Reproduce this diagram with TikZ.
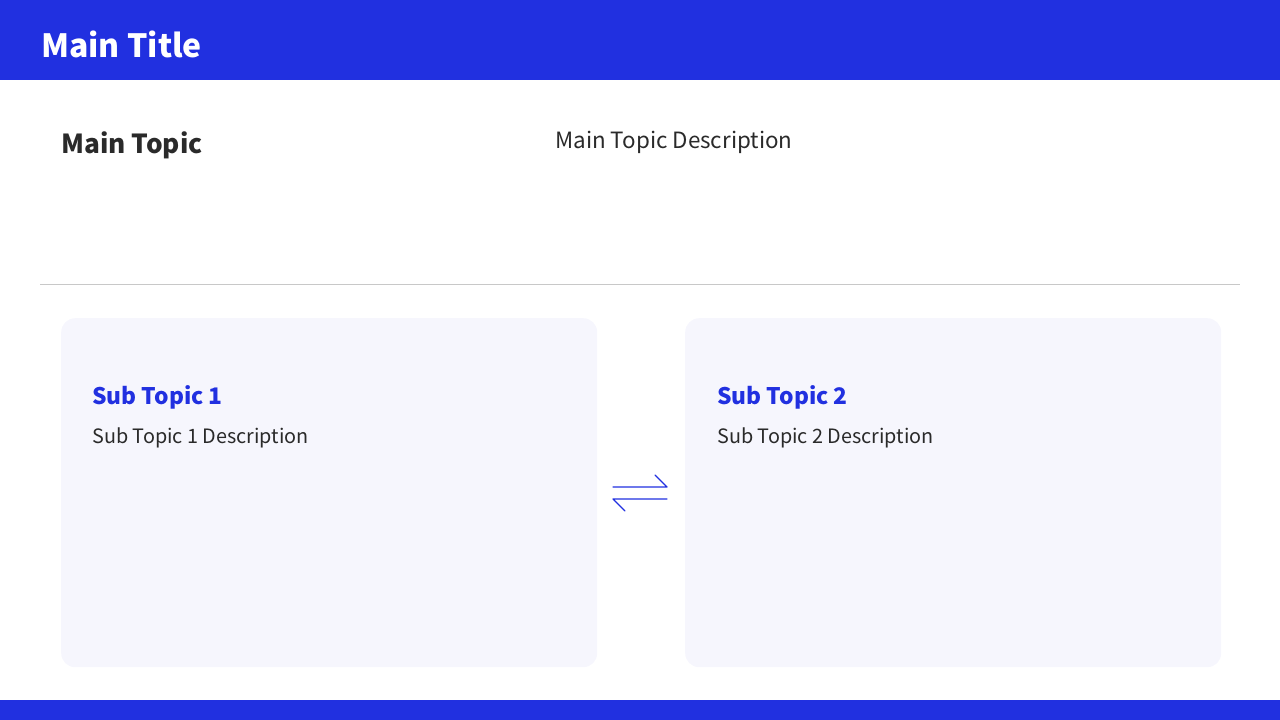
\documentclass[tikz,border=0pt]{standalone}
\usepackage{fontspec}
\setmainfont{Noto Sans CJK SC}
\usepackage{xcolor}
\usetikzlibrary{positioning, calc}

\definecolor{brandblue}{HTML}{2130E0}
\definecolor{cardfill}{HTML}{F6F6FD}
\definecolor{darktext}{HTML}{2A2A2A}
\definecolor{rulegray}{HTML}{C8C8C8}

\begin{document}
\begin{tikzpicture}[
    x=1pt, y=-1pt,
    bar/.style={fill=brandblue, draw=none},
    card/.style={rectangle, fill=cardfill, draw=none, rounded corners=14pt, anchor=north west, minimum width=536pt, minimum height=349pt},
    title/.style={anchor=base west, inner sep=0pt, font=\fontsize{32}{38}\selectfont\bfseries, text=white},
    topic/.style={anchor=base west, inner sep=0pt, font=\fontsize{26.2}{31}\selectfont\bfseries, text=darktext},
    topicdesc/.style={anchor=base west, inner sep=0pt, font=\fontsize{22.4}{27}\selectfont, text=darktext},
    subtopic/.style={anchor=base west, inner sep=0pt, font=\fontsize{22.8}{27}\selectfont\bfseries, text=brandblue},
    subdesc/.style={anchor=base west, inner sep=0pt, font=\fontsize{19.8}{24}\selectfont, text=darktext},
    harpoon/.style={draw=brandblue, line width=1.3pt, line cap=round, line join=round}
]
\useasboundingbox (0,0) rectangle (1280,720);

% Header and footer bars
\fill[bar] (0,0) rectangle (1280,80);
\fill[bar] (0,700) rectangle (1280,720);
\node[title] (maintitle) at (41,57) {Main Title};

% Main topic
\node[topic] (maintopic) at (61,153) {Main Topic};
\node[topicdesc] (maindesc) at (555,148) {Main Topic Description};

% Separator
\coordinate (sepL) at (40,284);
\coordinate (sepR) at (1240,284);
\draw[rulegray, line width=1pt] (sepL) -- (sepR);

% Cards
\node[card] (card1) at (61,318) {};
\node[card] (card2) at (685,318) {};

\node[subtopic] (sub1) at (92,404) {Sub Topic 1};
\node[subdesc] (desc1) at (92,443) {Sub Topic 1 Description};
\node[subtopic] (sub2) at (717,404) {Sub Topic 2};
\node[subdesc] (desc2) at (717,443) {Sub Topic 2 Description};

% Exchange harpoons
\coordinate (hTopL) at (613,487);
\coordinate (hTopR) at (667,487);
\coordinate (hBotL) at (613,499);
\coordinate (hBotR) at (667,499);
\draw[harpoon] (hTopL) -- (hTopR) -- ++(-12,-12);
\draw[harpoon] (hBotR) -- (hBotL) -- ++(12,12);

\end{tikzpicture}
\end{document}
